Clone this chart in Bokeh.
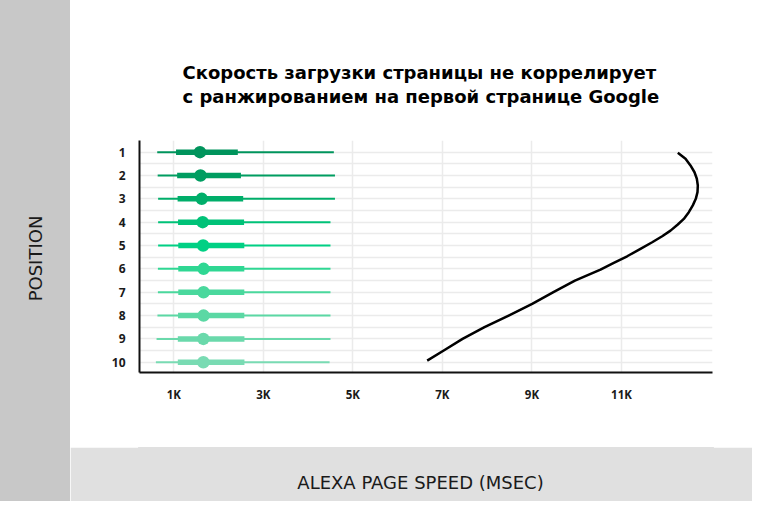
import math
from bokeh.plotting import figure
from bokeh.layouts import row, column
from bokeh.models import Range1d, FixedTicker
from bokeh.core.properties import value
from bokeh.embed import file_html
from bokeh.resources import INLINE

# ---------------- data ----------------
positions = [1, 2, 3, 4, 5, 6, 7, 8, 9, 10]
pos_labels = ["1", "2", "3", "4", "5", "6", "7", "8", "9", "10"]
whisker_lo = [630, 640, 650, 650, 650, 645, 645, 635, 615, 600]
box_lo = [1050, 1075, 1085, 1095, 1100, 1100, 1100, 1095, 1090, 1090]
median = [1585, 1596, 1625, 1645, 1655, 1665, 1665, 1665, 1660, 1660]
box_hi = [2430, 2500, 2550, 2570, 2575, 2575, 2575, 2575, 2578, 2578]
whisker_hi = [4575, 4600, 4600, 4500, 4500, 4500, 4500, 4500, 4500, 4480]
row_colors = ["#00945c", "#009d61", "#00ae6a", "#00c278", "#00d084",
              "#2fd793", "#4ad89d", "#5bd8a4", "#6ad9ab", "#79dbb3"]

curve_pos = [1.03, 1.28, 1.57, 1.86, 2.14, 2.43, 2.71, 3.0, 3.28, 3.57, 3.86,
             4.1, 4.36, 4.6, 4.86, 5.14, 5.46, 5.74, 6.03, 6.5, 7.0, 7.5,
             8.0, 8.5, 9.0, 9.5, 9.93]
curve_ms = [12258, 12430, 12541, 12631, 12683, 12705, 12698, 12660, 12593, 12504, 12392,
            12258, 12095, 11909, 11686, 11424, 11127, 10828, 10531, 9960, 9480, 9005,
            8480, 7940, 7450, 7030, 6660]

x_ticks = [1000, 3000, 5000, 7000, 9000, 11000]
x_tick_labels = ["1K", "3K", "5K", "7K", "9K", "11K"]

title_lines = ["Скорость загрузки страницы не коррелирует",
               "с ранжированием на первой странице Google"]
y_title = "POSITION"
x_title = "ALEXA PAGE SPEED (MSEC)"

FONT = "Open Sans"
WIDE = "DejaVu Sans"
TXT = "#1a1a1a"
LEFT_BG = "#c8c8c8"
BOTTOM_BG = "#e0e0e0"
GRID = "#ebebeb"

W, H = 752, 501
LEFT_W = 70
COL_W = W - LEFT_W
TOP_H = 128
MAIN_H = 319
BOT_H = H - TOP_H - MAIN_H
FR_L, FR_R = 139, 712          # frame edges in page pixels
BL, BR = FR_L - LEFT_W, W - FR_R


def blank(width, height, x0, x1, y0, y1, bg, bl=0, br=0):
    f = figure(width=width, height=height, output_backend="svg", toolbar_location=None,
               x_range=Range1d(x0, x1), y_range=Range1d(y1, y0),
               x_axis_location=None, y_axis_location=None, min_border=0,
               min_border_left=bl, min_border_right=br)
    f.grid.visible = False
    f.outline_line_color = bg
    f.outline_line_width = 3
    f.background_fill_color = bg
    f.border_fill_color = bg
    return f

# helper figures use page pixel coordinates as data
left = blank(LEFT_W, H, 0, LEFT_W, 0, H, LEFT_BG)
left.text(x=[35], y=[258], text=[y_title], angle=math.pi / 2,
          text_font=value(WIDE), text_font_size="18px", text_color=TXT,
          text_align="center", text_baseline="middle")

top = blank(COL_W, TOP_H, FR_L, FR_R, 0, TOP_H, "#ffffff", BL, BR)
top.text(x=[182, 182], y=[72, 95.5], text=title_lines,
         text_font=value(WIDE), text_font_size="18px", text_font_style="bold",
         text_color="#000000", text_align="left", text_baseline="alphabetic")

bottom = blank(COL_W, BOT_H, FR_L, FR_R, TOP_H + MAIN_H, H, BOTTOM_BG, BL, BR)
bottom.text(x=[420], y=[482], text=[x_title],
            text_font=value(WIDE), text_font_size="18px", text_color=TXT,
            text_align="center", text_baseline="middle")

# main chart
p = figure(width=COL_W, height=MAIN_H, output_backend="svg", toolbar_location=None,
           x_range=Range1d(234, 13033), y_range=Range1d(10.44, 0.5),
           min_border_left=BL, min_border_right=BR, min_border_top=12, min_border_bottom=75)
p.outline_line_color = None
p.background_fill_color = "#ffffff"
p.border_fill_color = "#ffffff"

p.xgrid.ticker = FixedTicker(ticks=x_ticks)
p.xgrid.grid_line_color = GRID
p.xgrid.grid_line_width = 1.5
p.ygrid.ticker = FixedTicker(ticks=[v / 2 for v in range(2, 21)])
p.ygrid.grid_line_color = GRID
p.ygrid.grid_line_width = 1.5

p.xaxis.ticker = FixedTicker(ticks=x_ticks)
p.xaxis.major_label_overrides = {t: l for t, l in zip(x_ticks, x_tick_labels)}
p.yaxis.ticker = FixedTicker(ticks=positions)
p.yaxis.major_label_overrides = {t: l for t, l in zip(positions, pos_labels)}
for ax in (p.xaxis, p.yaxis):
    ax.axis_line_color = "#111111"
    ax.axis_line_width = 2
    ax.major_tick_line_color = None
    ax.minor_tick_line_color = None
    ax.major_tick_out = 0
    ax.major_tick_in = 0
    ax.major_label_text_font = FONT
    ax.major_label_text_font_style = "bold"
    ax.major_label_text_color = TXT
p.xaxis.major_label_text_font_size = "11.5px"
p.xaxis.major_label_standoff = 14
p.yaxis.major_label_text_font_size = "12px"
p.yaxis.major_label_standoff = 14

p.segment(x0=whisker_lo, x1=whisker_hi, y0=positions, y1=positions,
          line_color=row_colors, line_width=2)
p.segment(x0=box_lo, x1=box_hi, y0=positions, y1=positions,
          line_color=row_colors, line_width=5.5)
p.scatter(x=median, y=positions, size=12.5, fill_color=row_colors, line_color=None)

p.line(x=curve_ms, y=curve_pos, line_color="#000000", line_width=2.5, line_join="round")

layout = row(left, column(top, p, bottom))
open("out.html", "w").write(file_html(layout, INLINE))
